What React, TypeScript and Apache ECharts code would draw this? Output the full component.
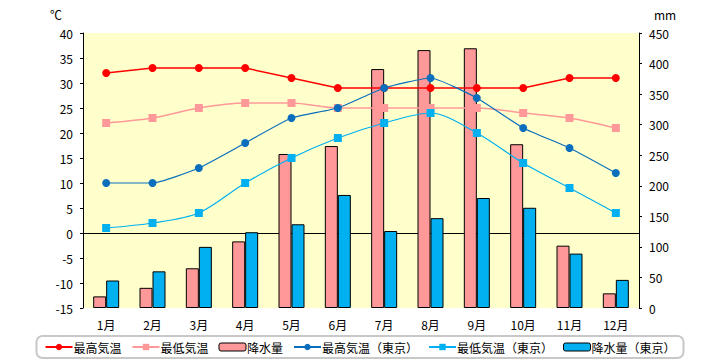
import React, { useEffect, useRef } from "react";
import * as echarts from "echarts";

const months = ["1月", "2月", "3月", "4月", "5月", "6月", "7月", "8月", "9月", "10月", "11月", "12月"];
const maxTemp = [32, 33, 33, 33, 31, 29, 29, 29, 29, 29, 31, 31];
const minTemp = [22, 23, 25, 26, 26, 25, 25, 25, 25, 24, 23, 21];
const precip = [19, 33, 65, 109, 252, 265, 391, 422, 425, 268, 102, 24];
const maxTempTokyo = [10, 10, 13, 18, 23, 25, 29, 31, 27, 21, 17, 12];
const minTempTokyo = [1, 2, 4, 10, 15, 19, 22, 24, 20, 14, 9, 4];
const precipTokyo = [45, 60, 100, 124, 137, 185, 126, 147, 180, 164, 89, 46];

const FONT = "'Noto Sans CJK JP', sans-serif";

export default function App() {
  const ref = useRef<HTMLDivElement>(null);
  useEffect(() => {
    const chart = echarts.init(ref.current!, null, { renderer: "svg" });
    chart.setOption({
      animation: false,
      textStyle: { fontFamily: FONT },
      grid: { left: 83, right: 81, top: 33, bottom: 52, show: true, backgroundColor: "#ffffcc", borderWidth: 0 },
      graphic: [
        { type: "text", left: 50, top: 8, style: { text: "℃", fontSize: 12, fill: "#000", fontFamily: FONT } },
        { type: "text", left: 654, top: 8, style: { text: "mm", fontSize: 12, fill: "#000", fontFamily: FONT } },
      ],
      legend: {
        bottom: 2,
        left: "center",
        width: 700,
        borderColor: "#c8c8c8",
        borderWidth: 2,
        borderRadius: 6,
        padding: [5, 8],
        itemWidth: 27,
        itemHeight: 8,
        itemGap: 10,
        textStyle: { fontSize: 12, color: "#000", fontFamily: FONT, padding: [0, 0, 0, -4] },
        data: [
          { name: "最高気温" },
          { name: "最低気温" },
          { name: "降水量", itemStyle: { borderColor: "#000", borderWidth: 1 } },
          { name: "最高気温（東京）" },
          { name: "最低気温（東京）" },
          { name: "降水量（東京）", itemStyle: { borderColor: "#000", borderWidth: 1 } },
        ],
      },
      xAxis: {
        type: "category",
        data: months,
        axisLine: { onZero: true, lineStyle: { color: "#000", width: 1 } },
        axisTick: { show: false },
        axisLabel: { color: "#000", fontSize: 12, margin: 10, fontFamily: FONT },
        splitLine: { show: false },
      },
      yAxis: [
        {
          type: "value",
          min: -15,
          max: 40,
          interval: 5,
          axisLine: { show: true, onZero: false, lineStyle: { color: "#000" } },
          axisTick: { show: true, length: 3, lineStyle: { color: "#000" } },
          axisLabel: { color: "#000", fontSize: 12, margin: 10, fontFamily: FONT },
          splitLine: { show: false },
        },
        {
          type: "value",
          min: 0,
          max: 450,
          interval: 50,
          position: "right",
          axisLine: { show: true, onZero: false, lineStyle: { color: "#000" } },
          axisTick: { show: true, length: 3, lineStyle: { color: "#000" } },
          axisLabel: { color: "#000", fontSize: 12, margin: 10, fontFamily: FONT },
          splitLine: { show: false },
        },
      ],
      series: [
        {
          name: "降水量",
          type: "bar",
          yAxisIndex: 1,
          data: precip,
          barWidth: 13,
          barGap: "0%",
          itemStyle: { color: "#ff9999", borderColor: "#000", borderWidth: 1 },
          z: 1,
        },
        {
          name: "降水量（東京）",
          type: "bar",
          yAxisIndex: 1,
          data: precipTokyo,
          barWidth: 13,
          barGap: "0%",
          itemStyle: { color: "#00b0f0", borderColor: "#000", borderWidth: 1 },
          z: 1,
        },
        {
          name: "最高気温",
          type: "line",
          data: maxTemp,
          symbol: "circle",
          symbolSize: 8,
          lineStyle: { color: "#ff0000", width: 1.5 },
          itemStyle: { color: "#ff0000" },
          z: 5,
        },
        {
          name: "最低気温",
          type: "line",
          data: minTemp,
          smooth: 0.3,
          symbol: "rect",
          symbolSize: 8,
          lineStyle: { color: "#ff9999", width: 1.5 },
          itemStyle: { color: "#ff9999" },
          z: 4,
        },
        {
          name: "最高気温（東京）",
          type: "line",
          data: maxTempTokyo,
          smooth: 0.15,
          symbol: "circle",
          symbolSize: 8,
          lineStyle: { color: "#0a6ebd", width: 1.2 },
          itemStyle: { color: "#0a6ebd" },
          z: 6,
        },
        {
          name: "最低気温（東京）",
          type: "line",
          data: minTempTokyo,
          smooth: 0.3,
          symbol: "rect",
          symbolSize: 8,
          lineStyle: { color: "#00b0f0", width: 1.2 },
          itemStyle: { color: "#00b0f0" },
          z: 6,
        },
      ],
    });
    return () => chart.dispose();
  }, []);
  return <div ref={ref} style={{ width: 720, height: 360, position: "absolute", left: 0, top: 0 }} />;
}
